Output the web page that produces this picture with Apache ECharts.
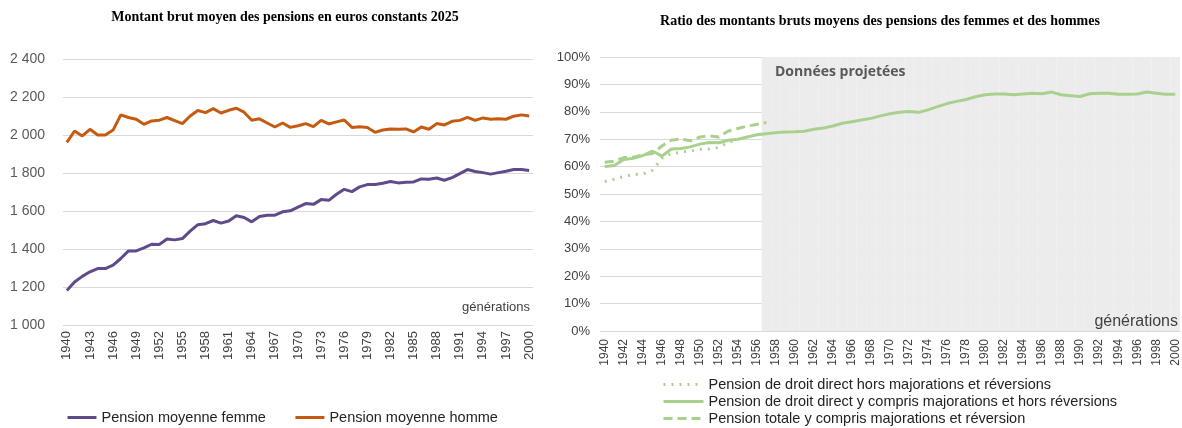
<!DOCTYPE html>
<html>
<head>
<meta charset="utf-8">
<script src="https://cdn.jsdelivr.net/npm/echarts@6/dist/echarts.min.js"></script>
<style>
  html, body { margin: 0; padding: 0; background: #fff; }
  #main { width: 1182px; height: 428px; }
</style>
</head>
<body>
<div id="main"></div>
<script>
var years = [];
for (var y = 1940; y <= 2000; y++) years.push(String(y));

// Montant brut moyen (euros constants 2025)
var pensionFemme = [1182, 1226, 1256, 1280, 1297, 1297, 1315, 1350, 1390, 1390,
    1406, 1425, 1424, 1453, 1448, 1455, 1494, 1528, 1533, 1550,
    1536, 1547, 1575, 1566, 1543, 1571, 1578, 1578, 1596, 1601,
    1620, 1639, 1635, 1660, 1656, 1688, 1714, 1702, 1727, 1739,
    1739, 1746, 1755, 1748, 1751, 1753, 1769, 1767, 1774, 1762,
    1776, 1797, 1818, 1808, 1802, 1794, 1802, 1809, 1818, 1818, 1813];
var pensionHomme = [1961, 2021, 1995, 2030, 2000, 2000, 2026, 2106, 2092, 2083,
    2056, 2074, 2078, 2092, 2076, 2060, 2100, 2129, 2118, 2139,
    2116, 2130, 2141, 2120, 2078, 2085, 2063, 2042, 2063, 2040,
    2049, 2060, 2044, 2077, 2058, 2069, 2079, 2040, 2044, 2039,
    2014, 2026, 2032, 2030, 2032, 2016, 2042, 2030, 2060, 2053,
    2072, 2077, 2093, 2077, 2090, 2083, 2085, 2083, 2099, 2106, 2100];

// Ratio femmes / hommes (%)
var ratioHorsMaj = [54.5, 55.4, 56.4, 57.1, 57.3, 58.6, 63.0, 64.8, 65.2, 65.7,
    66.3, 66.4, 67.0, 68.8, 69.8];
var ratioAvecMaj = [60.0, 60.4, 62.6, 63.0, 64.0, 65.7, 63.8, 66.4, 66.6, 67.2,
    68.2, 68.8, 68.7, 69.6, 70.0, 70.8, 71.6, 72.0, 72.4, 72.6,
    72.7, 72.9, 73.6, 74.1, 74.8, 75.8, 76.4, 77.0, 77.6, 78.5,
    79.3, 79.8, 80.1, 79.8, 80.7, 81.9, 83.0, 83.8, 84.5, 85.5,
    86.2, 86.5, 86.5, 86.2, 86.5, 86.8, 86.6, 87.2, 86.2, 85.9,
    85.6, 86.6, 86.8, 86.8, 86.4, 86.4, 86.5, 87.2, 86.8, 86.4, 86.4];
var ratioTotale = [61.6, 62.0, 63.3, 63.4, 64.3, 64.8, 67.5, 69.6, 70.1, 69.4,
    70.8, 71.2, 70.8, 73.0, 73.9, 74.8, 75.4, 76.1];

var projectionStart = 1957;

var nomsGauche = ['Pension moyenne femme', 'Pension moyenne homme'];
var nomsDroite = ['Pension de droit direct hors majorations et réversions',
    'Pension de droit direct y compris majorations et hors réversions',
    'Pension totale y compris majorations et réversion'];

var shade = years.map(function (a) { return +a >= projectionStart ? 100 : '-'; });

var myChart = echarts.init(document.getElementById('main'));

var axisTxt = { color: '#404040', fontFamily: 'Liberation Sans', fontSize: 13 };
var legTxt = { fontFamily: 'Liberation Sans', fontSize: 14.5, color: '#222' };

// une légende par ligne à droite (empilées)
var legendes = [{
    data: nomsGauche,
    left: 66, top: 410, padding: 0,
    itemWidth: 29, itemHeight: 10, itemGap: 28,
    itemStyle: { opacity: 0 },
    lineStyle: { width: 3 },
    textStyle: legTxt
}];
nomsDroite.forEach(function (n, i) {
    legendes.push({
        data: [n], left: 662, top: 377 + i * 17, padding: 0,
        itemWidth: 40, itemHeight: 10,
        itemStyle: { opacity: 0 },
        lineStyle: { width: 3 },
        textStyle: legTxt
    });
});

var option = {
    animation: false,
    title: [{
        text: 'Montant brut moyen des pensions en euros constants 2025',
        left: 280, top: 5, textAlign: 'center',
        textStyle: { fontFamily: 'Liberation Serif', fontWeight: 'bold', fontSize: 14, color: '#000' }
    }, {
        text: 'Ratio des montants bruts moyens des pensions des femmes et des hommes',
        left: 875, top: 9, textAlign: 'center',
        textStyle: { fontFamily: 'Liberation Serif', fontWeight: 'bold', fontSize: 14, color: '#000' }
    }],
    legend: legendes,
    grid: [
        { left: 63, right: 649, top: 59, bottom: 103 },
        { left: 600, right: 2, top: 57, bottom: 97 }
    ],
    xAxis: [{
        gridIndex: 0, type: 'category', data: years, boundaryGap: true,
        axisLine: { show: false }, axisTick: { show: false },
        axisLabel: Object.assign({ rotate: 90, interval: 2, margin: 6 }, axisTxt)
    }, {
        gridIndex: 1, type: 'category', data: years, boundaryGap: true,
        axisLine: { show: false }, axisTick: { show: false },
        axisLabel: Object.assign({}, axisTxt, { rotate: 90, interval: 1, margin: 8, fontSize: 12 })
    }],
    yAxis: [{
        gridIndex: 0, type: 'value', min: 1000, max: 2400, interval: 200,
        axisLine: { show: false }, axisTick: { show: false },
        splitLine: { lineStyle: { color: '#d9d9d9', width: 1 } },
        axisLabel: Object.assign({ margin: 18, formatter: function (v) {
            return String(v).replace(/\B(?=(\d{3})+(?!\d))/g, ' ');
        } }, axisTxt, { color: '#595959', fontSize: 14 })
    }, {
        gridIndex: 1, type: 'value', min: 0, max: 100, interval: 10,
        axisLine: { show: false }, axisTick: { show: false },
        splitLine: { lineStyle: { color: '#d9d9d9', width: 1 } },
        axisLabel: Object.assign({ margin: 10, formatter: '{value}%' }, axisTxt)
    }],
    graphic: [{
        type: 'text', right: 652, top: 301, z: 100,
        style: { text: 'générations', fill: '#404040', font: '13px "Liberation Sans"' }
    }, {
        type: 'text', right: 4, top: 314, z: 100,
        style: { text: 'générations', fill: '#404040', font: '16px "Liberation Sans"' }
    }, {
        type: 'text', left: 775, top: 65, z: 100,
        style: { text: 'Données projetées', fill: '#595959', font: 'bold 14px "Open Sans"' }
    }],
    series: [{
        name: 'projection', type: 'bar', xAxisIndex: 1, yAxisIndex: 1,
        data: shade, barWidth: '100%', barGap: '0%', silent: true, z: 1,
        itemStyle: { color: '#ececec' }
    }, {
        name: nomsGauche[0], type: 'line', xAxisIndex: 0, yAxisIndex: 0,
        data: pensionFemme, symbol: 'none', z: 3,
        lineStyle: { color: '#5f4b8b', width: 3 }, itemStyle: { color: '#5f4b8b' }
    }, {
        name: nomsGauche[1], type: 'line', xAxisIndex: 0, yAxisIndex: 0,
        data: pensionHomme, symbol: 'none', z: 3,
        lineStyle: { color: '#c55a11', width: 3 }, itemStyle: { color: '#c55a11' }
    }, {
        name: nomsDroite[0], type: 'line', xAxisIndex: 1, yAxisIndex: 1,
        data: ratioHorsMaj, symbol: 'none', z: 3,
        lineStyle: { color: '#a9d18e', width: 3, type: [2, 6] }, itemStyle: { color: '#a9d18e' }
    }, {
        name: nomsDroite[1], type: 'line', xAxisIndex: 1, yAxisIndex: 1,
        data: ratioAvecMaj, symbol: 'none', z: 3,
        lineStyle: { color: '#a9d18e', width: 3 }, itemStyle: { color: '#a9d18e' }
    }, {
        name: nomsDroite[2], type: 'line', xAxisIndex: 1, yAxisIndex: 1,
        data: ratioTotale, symbol: 'none', z: 3,
        lineStyle: { color: '#a9d18e', width: 3, type: [9, 5] }, itemStyle: { color: '#a9d18e' }
    }]
};

myChart.setOption(option);
</script>
</body>
</html>
